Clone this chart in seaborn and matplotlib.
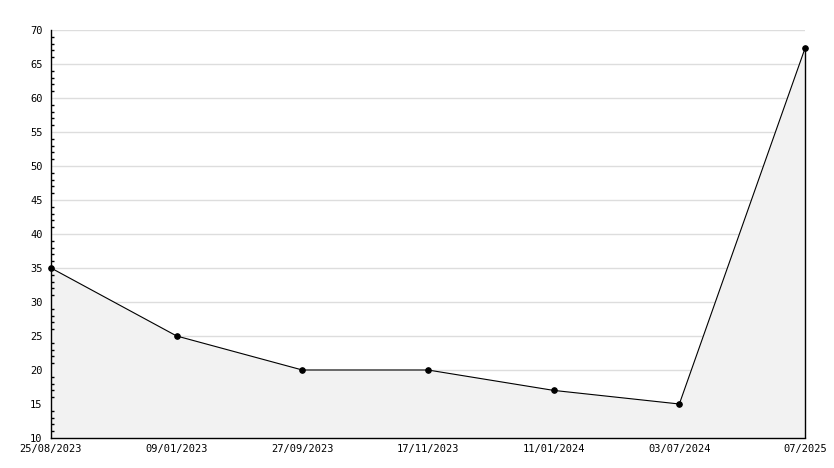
import numpy as np
import pandas as pd
import seaborn as sns
import matplotlib.pyplot as plt
from matplotlib.ticker import MultipleLocator

fechas = ["25/08/2023", "09/01/2023", "27/09/2023", "17/11/2023",
          "11/01/2024", "03/07/2024", "07/2025"]
valores = [35, 25, 20, 20, 17, 15, 67.3]
lineas_y = [15, 20, 25, 30, 35, 40, 45, 50, 55, 60, 65, 70]


def main():
    df = pd.DataFrame({"pos": np.arange(len(fechas)), "valor": valores})

    sns.set_theme(style="white")
    plt.rcParams['font.family'] = ['DejaVu Sans Mono', 'DejaVu Sans']

    fig = plt.figure(figsize=(8.34, 4.68), dpi=100)
    ax = fig.add_axes([51 / 834, 30 / 468, 754 / 834, 408 / 468])

    # rejilla horizontal por debajo del relleno
    for yv in lineas_y:
        ax.axhline(yv, color="#dddddd", lw=1, zorder=0.5)

    # relleno gris bajo la linea
    ax.fill_between(df["pos"], df["valor"], 10, color="#f2f2f2", zorder=1)
    ax.vlines(df["pos"].iloc[-1], 10, df["valor"].iloc[-1], color="black",
              lw=1, zorder=2, clip_on=False)

    sns.lineplot(data=df, x="pos", y="valor", ax=ax, color="black", lw=0.8,
                 marker="o", markersize=4, markeredgecolor="black", zorder=3,
                 clip_on=False)

    ax.set_xlim(0, len(fechas) - 1)
    ax.set_ylim(10, 70)
    ax.set_xticks(df["pos"])
    ax.set_xticklabels(fechas)
    ax.yaxis.set_major_locator(MultipleLocator(5))
    ax.yaxis.set_minor_locator(MultipleLocator(1))
    ax.grid(False)
    ax.set_axisbelow(False)

    ax.tick_params(axis="y", which="major", direction="in", length=3.5, width=1,
                   labelsize=7.5, pad=6, color="black", labelcolor="black")
    ax.tick_params(axis="y", which="minor", direction="in", length=2.5, width=1,
                   left=True, color="black")
    ax.tick_params(axis="x", direction="in", length=4.5, width=1, labelsize=7.5,
                   pad=4, color="black", labelcolor="black")

    for lado in ["top", "right"]:
        ax.spines[lado].set_visible(False)
    for lado in ["left", "bottom"]:
        ax.spines[lado].set_color("black")
        ax.spines[lado].set_linewidth(1)

    ax.set_xlabel("")
    ax.set_ylabel("")

    plt.savefig("out.png", dpi=100)
    plt.close()


if __name__ == '__main__':
    main()
